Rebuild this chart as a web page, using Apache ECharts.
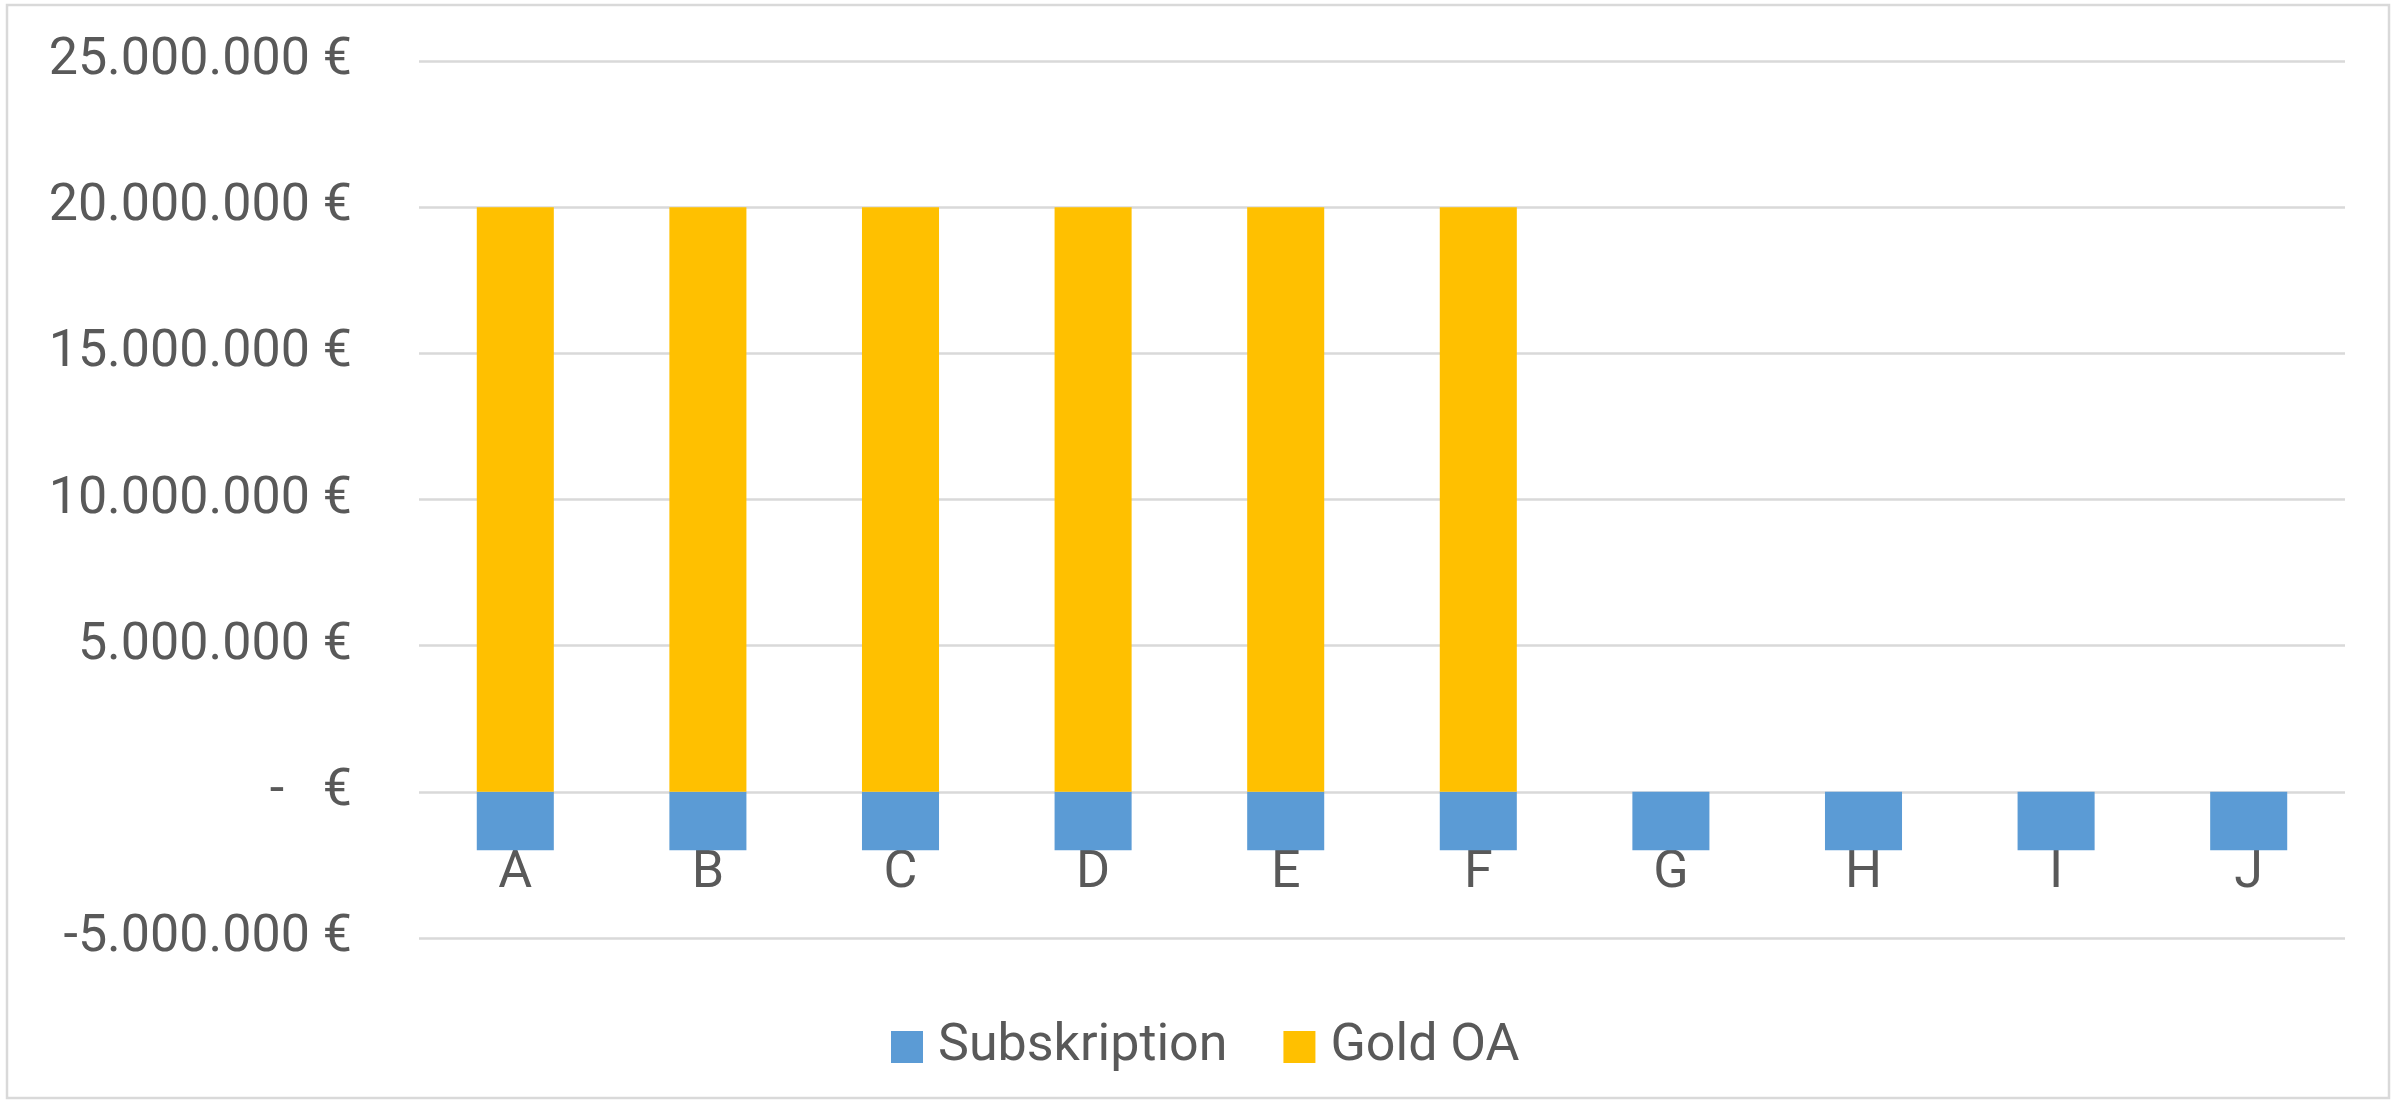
<!DOCTYPE html>
<html>

<head>
    <meta charset="utf-8">
    <title>ECharts</title>
    <script src="https://cdn.jsdelivr.net/npm/echarts@6/dist/echarts.min.js"></script>
    <style>
        body { margin: 0; background: #fff; }
    </style>
</head>

<body>
    <div id="main" style="width: 2402px;height:1104px;"></div>
    <script type="text/javascript">
        // data
        var categories = ['A', 'B', 'C', 'D', 'E', 'F', 'G', 'H', 'I', 'J'];
        var subskription = [-2000000, -2000000, -2000000, -2000000, -2000000, -2000000, -2000000, -2000000, -2000000, -2000000];
        var goldOA = [20000000, 20000000, 20000000, 20000000, 20000000, 20000000, 0, 0, 0, 0];
        var seriesNames = ['Subskription', 'Gold OA'];

        var textColor = '#595959';
        var fontFamily = 'Roboto';

        // 1.000.000 € style labels, zero shown as "-   €"
        function euro(v) {
            if (v === 0) return '-   €';
            var s = String(Math.abs(v)).replace(/\B(?=(\d{3})+(?!\d))/g, '.');
            return (v < 0 ? '-' : '') + s + ' €';
        }

        var myChart = echarts.init(document.getElementById('main'));

        var option = {
            animation: false,
            backgroundColor: '#fff',
            textStyle: { fontFamily: fontFamily },
            graphic: [{
                type: 'rect',
                shape: { x: 7, y: 5, width: 2382, height: 1093 },
                style: { fill: 'none', stroke: '#d9d9d9', lineWidth: 2.5 },
                silent: true
            }],
            legend: {
                data: seriesNames,
                left: 886,
                top: 1016,
                itemWidth: 32,
                itemHeight: 32,
                itemGap: 56,
                icon: 'rect',
                textStyle: { color: textColor, fontSize: 52, fontFamily: fontFamily, padding: [0, 0, 0, 10] }
            },
            grid: {
                left: 419,
                right: 57,
                top: 61,
                bottom: 166,
                containLabel: false
            },
            xAxis: {
                type: 'category',
                data: categories,
                axisLine: { show: false, onZero: false },
                axisTick: { show: false },
                // labels sit just under the zero line, like Excel's "next to axis"
                axisLabel: { color: textColor, fontSize: 52, fontFamily: fontFamily, margin: -90 }
            },
            yAxis: {
                type: 'value',
                min: -5000000,
                max: 25000000,
                interval: 5000000,
                axisLine: { show: false },
                axisTick: { show: false },
                splitLine: { lineStyle: { color: '#d9d9d9', width: 2.5 } },
                axisLabel: {
                    color: textColor,
                    fontSize: 52,
                    fontFamily: fontFamily,
                    margin: 67,
                    formatter: euro
                }
            },
            series: [{
                name: seriesNames[0],
                type: 'bar',
                stack: 'total',
                barWidth: '40%',
                itemStyle: { color: '#5b9bd5' },
                data: subskription
            }, {
                name: seriesNames[1],
                type: 'bar',
                stack: 'total',
                barWidth: '40%',
                itemStyle: { color: '#ffc000' },
                data: goldOA
            }]
        };

        myChart.setOption(option);
    </script>
</body>

</html>
